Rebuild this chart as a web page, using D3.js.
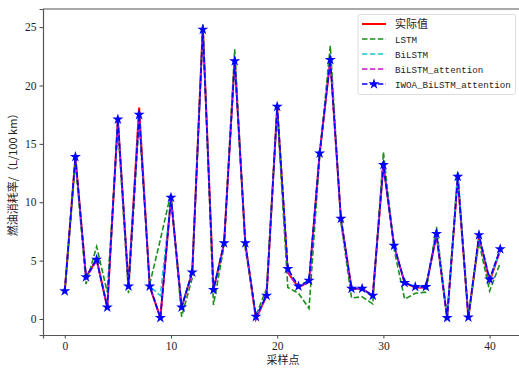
<!DOCTYPE html>
<html><head><meta charset="utf-8">
<script src="https://cdn.jsdelivr.net/npm/d3@7"></script>
<style>body{margin:0;background:#fff}svg{display:block}</style>
</head><body>
<svg id="c" width="519" height="371"></svg>
<script>
const seriesNames = ["实际值","LSTM","BiLSTM","BiLSTM_attention","IWOA_BiLSTM_attention"];
const actual = [2.4,13.9,3.6,5.1,1.0,17.1,2.8,18.1,2.8,0.1,10.4,1.0,4.0,25.1,2.5,6.5,22.3,6.5,0.0,2.0,18.2,4.0,2.7,3.2,14.2,22.2,8.6,2.6,2.6,2.0,13.2,6.3,3.1,2.7,2.7,7.2,0.1,12.1,0.1,7.0,3.2,5.9];
const lstm = [2.2,13.5,3.0,6.2,2.3,16.5,2.2,17.0,3.0,6.8,10.8,0.2,3.5,25.3,1.2,6.3,23.1,6.0,0.3,2.6,17.8,2.7,2.2,0.9,14.0,23.4,8.3,1.8,1.9,1.3,14.3,6.0,1.7,2.2,2.3,7.9,0.1,12.5,0.2,6.6,2.4,4.8];
const bilstm = [2.4,13.8,3.5,5.1,1.0,17.0,2.8,17.6,2.8,2.0,10.4,1.1,4.0,24.9,2.5,6.5,22.2,6.5,0.1,2.1,18.1,4.2,2.8,3.3,14.2,22.3,8.6,2.6,2.6,2.0,13.3,6.3,3.1,2.8,2.8,7.3,0.1,12.6,0.1,7.1,3.4,5.9];
const bilstmAtt = [2.4,13.8,3.5,5.0,1.0,17.0,2.8,17.6,2.8,0.1,10.3,1.0,4.0,24.9,2.5,6.4,22.1,6.4,0.0,2.0,18.1,4.0,2.7,3.2,14.1,22.2,8.5,2.6,2.6,2.0,13.2,6.3,3.1,2.7,2.7,7.2,0.1,12.1,0.1,7.1,3.3,5.9];
const iwoa = [2.4,13.9,3.6,5.1,1.0,17.1,2.8,17.5,2.8,0.1,10.4,1.0,4.0,24.8,2.5,6.5,22.1,6.5,0.2,2.0,18.2,4.3,2.8,3.3,14.2,22.2,8.6,2.6,2.6,2.0,13.2,6.3,3.1,2.75,2.75,7.3,0.1,12.2,0.15,7.2,3.4,6.0];
const xTicks = [0,10,20,30,40];
const yTicks = [0,5,10,15,20,25];
const xLabel = "采样点";
const yLabel = "燃油消耗率/（L/100 km）";

const svg = d3.select("#c");
const x = d3.scaleLinear().domain([-2.05,43.05]).range([43,522]);
const y = d3.scaleLinear().domain([-1.37,26.55]).range([335,9]);

const serif = "'Liberation Serif','Times New Roman',serif";
const mono = "'Liberation Mono',monospace";
const cjk = "'Noto Sans CJK SC',sans-serif";

// axes
const gx = svg.append("g").attr("transform","translate(0,335)")
  .call(d3.axisBottom(x).tickValues(xTicks).tickSize(3.5).tickPadding(3).tickFormat(d3.format("d")));
const gy = svg.append("g").attr("transform","translate(43,0)")
  .call(d3.axisLeft(y).tickValues(yTicks).tickSize(3.5).tickPadding(3).tickFormat(d3.format("d")));
[gx,gy].forEach(g=>{
  g.attr("font-family",null).attr("font-size",null);
  g.selectAll("text").style("font-family",serif).style("font-size","11.5px").attr("fill","#222");
  g.selectAll("line").attr("stroke","#444");
  g.select(".domain").attr("stroke","#555").attr("stroke-width",1.2);
});
svg.append("line").attr("x1",43).attr("x2",522).attr("y1",9).attr("y2",9).attr("stroke","#555").attr("stroke-width",1.2);

const line = d3.line().x((d,i)=>x(i)).y(d=>y(d));
const plot = svg.append("g");
plot.append("path").datum(actual).attr("d",line).attr("fill","none").attr("stroke","#ff0000").attr("stroke-width",2);
plot.append("path").datum(lstm).attr("d",line).attr("fill","none").attr("stroke","#1a8f1a").attr("stroke-width",1.6).attr("stroke-dasharray","5.5,2.4");
plot.append("path").datum(bilstm).attr("d",line).attr("fill","none").attr("stroke","#17c9c9").attr("stroke-width",1.6).attr("stroke-dasharray","5.5,2.4");
plot.append("path").datum(bilstmAtt).attr("d",line).attr("fill","none").attr("stroke","#cc11cc").attr("stroke-width",1.6).attr("stroke-dasharray","5.5,2.4");
plot.append("path").datum(iwoa).attr("d",line).attr("fill","none").attr("stroke","#0000ff").attr("stroke-width",1.6).attr("stroke-dasharray","5.5,2.4");
const star = d3.symbol().type(d3.symbolStar).size(38);
plot.selectAll(".st").data(iwoa).join("path").attr("class","st")
  .attr("transform",(d,i)=>`translate(${x(i)},${y(d)})`).attr("d",star).attr("fill","#0000ff");

// labels
svg.append("text").attr("x",283).attr("y",364).attr("text-anchor","middle")
  .style("font-family",cjk).style("font-size","11px").attr("fill","#222").text(xLabel);
svg.append("text").attr("transform","translate(17,172) rotate(-90)").attr("text-anchor","middle")
  .style("font-family",cjk).style("font-size","11px").attr("fill","#222").text(yLabel);

// legend
const lg = svg.append("g");
lg.append("rect").attr("x",358).attr("y",14.5).attr("width",157.5).attr("height",80).attr("rx",2)
  .attr("fill","#fff").attr("fill-opacity",0.85).attr("stroke","#ddd").attr("stroke-width",1);
const colors = ["#ff0000","#1a8f1a","#17c9c9","#cc11cc","#0000ff"];
seriesNames.forEach((n,i)=>{
  const yy = 24 + i*15;
  const l = lg.append("line").attr("x1",362).attr("x2",386).attr("y1",yy).attr("y2",yy)
    .attr("stroke",colors[i]).attr("stroke-width",i===0?2:1.6);
  if(i>0) l.attr("stroke-dasharray","5.5,2.4");
  if(i===4) lg.append("path").attr("transform",`translate(374,${yy})`).attr("d",star).attr("fill","#0000ff");
  lg.append("text").attr("x",395).attr("y",yy+3.5)
    .style("font-family", i===0 ? cjk : mono).style("font-size", i===0 ? "11px" : "9.2px")
    .attr("fill","#222").text(n);
});
</script>
</body></html>
